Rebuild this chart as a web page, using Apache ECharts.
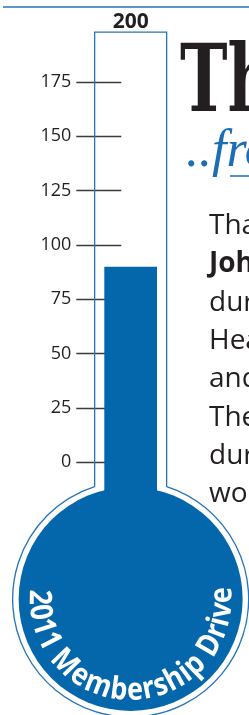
<!DOCTYPE html>
<html>
<head>
<meta charset="utf-8">
<script src="https://cdn.jsdelivr.net/npm/echarts@6/dist/echarts.min.js"></script>
<style>
  html, body { margin: 0; padding: 0; background: #fff; }
  #thermo { width: 249px; height: 715px; }
</style>
</head>
<body>
<div id="thermo"></div>
<script>
  // data
  var categories = ['2011'];
  var members = [90];
  var goal = 200;
  var tickValues = [0, 25, 50, 75, 100, 125, 150, 175];
  var driveTitle = '2011 Membership Drive';
  var headline = 'Thank You';
  var byline = '..from the President';
  var bodyLines = [
    { text: 'Thank you to', bold: false },
    { text: 'John', bold: true },
    { text: 'during the', bold: false },
    { text: 'Health', bold: false },
    { text: 'and', bold: false },
    { text: 'The', bold: false },
    { text: 'during', bold: false },
    { text: 'would', bold: false }
  ];

  var blue = '#0467ab';
  var rim = '#2674ba';
  var ink = '#231f20';

  var chart = echarts.init(document.getElementById('thermo'));
  chart.setOption({
    animation: false,
    grid: { left: 104.3, right: 92, top: 27.6, bottom: 252.7 },
    xAxis: { type: 'category', data: categories, show: false },
    yAxis: {
      type: 'value', min: 0, max: goal, interval: 25,
      offset: -17,
      axisLine: { show: false },
      splitLine: { show: false },
      axisTick: { show: true, length: 45, customValues: tickValues,
                  lineStyle: { color: '#3b3b3b', width: 1.3 } },
      axisLabel: { margin: 50, customValues: tickValues, color: ink,
                   fontFamily: 'Open Sans', fontSize: 18 }
    },
    series: [{
      type: 'bar', data: members, barWidth: '100%', z: 10,
      itemStyle: { color: blue }
    }]
  });

  // thermometer body placed from the axis scale
  var p0 = chart.convertToPixel({ xAxisIndex: 0, yAxisIndex: 0 }, [categories[0], 0]);
  var pTop = chart.convertToPixel({ xAxisIndex: 0, yAxisIndex: 0 }, [categories[0], goal]);
  var cx = p0[0], y0 = p0[1], yTop = pTop[1];
  var cy = y0 + 136.7, rOut = 118, rIn = 112, half = 36, barHalf = 26.35;
  var joinY = cy - Math.sqrt(rOut * rOut - half * half);
  var joinA = Math.asin(half / rOut);

  function txt(x, y, text, font, fill, align, extra) {
    var el = { type: 'text', x: x, y: y, z: 5,
      style: { text: text, font: font, fill: fill,
               align: align, verticalAlign: 'middle',
               textAlign: align, textVerticalAlign: 'middle' } };
    for (var k in extra) el[k] = extra[k];
    return el;
  }

  var els = [
    { type: 'line', z: 3, shape: { x1: 3, y1: 7, x2: 249, y2: 7 },
      style: { stroke: rim, lineWidth: 1.6 } },
    { type: 'arc', z: 3,
      shape: { cx: cx, cy: cy, r: rOut, startAngle: -Math.PI / 2 + joinA,
               endAngle: Math.PI * 1.5 - joinA, clockwise: true },
      style: { stroke: rim, lineWidth: 1.3, fill: null } },
    { type: 'polyline', z: 3,
      shape: { points: [[cx - half, joinY], [cx - half, yTop + 4.5], [cx + half, yTop + 4.5], [cx + half, joinY]] },
      style: { stroke: rim, lineWidth: 1.3, fill: null } },
    { type: 'circle', z: 4, shape: { cx: cx, cy: cy, r: rIn }, style: { fill: blue } },
    { type: 'rect', z: 4, shape: { x: cx - barHalf, y: y0 - 0.5, width: barHalf * 2, height: 40 },
      style: { fill: blue } },
    txt(cx, 22, String(goal), 'bold 21px "Open Sans"', ink, 'center'),
    txt(180, 87, headline, 'bold 94px "DejaVu Serif"', ink, 'left', { scaleX: 0.68 }),
    txt(186, 152, byline, 'italic 52px "Liberation Serif"', '#1b6db5', 'left'),
    { type: 'line', z: 3, shape: { x1: 230, y1: 176, x2: 249, y2: 176 },
      style: { stroke: '#1b6db5', lineWidth: 1.5 } }
  ];

  bodyLines.forEach(function (ln, i) {
    var base = 236.7 + i * 38.3;
    els.push(txt(209, base - 10.5, ln.text,
      (ln.bold ? 'bold ' : '') + '28px "Open Sans"', ink, 'left'));
  });

  // lettering round the bulb
  var arcFont = 'bold 31px "Open Sans"', arcScale = 0.87, arcR = 92;
  var ctx = document.createElement('canvas').getContext('2d');
  ctx.font = arcFont;
  var centers = [];
  for (var i = 0; i < driveTitle.length; i++) {
    var a = ctx.measureText(driveTitle.slice(0, i)).width;
    var b = ctx.measureText(driveTitle.slice(0, i + 1)).width;
    centers.push((a + b) / 2);
  }
  var first = centers[0], last = centers[centers.length - 1];
  var startT = 181 * Math.PI / 180, endT = -2.4 * Math.PI / 180;
  for (var j = 0; j < driveTitle.length; j++) {
    var ch = driveTitle[j];
    if (ch === ' ') continue;
    var t = startT + (endT - startT) * (centers[j] - first) / (last - first);
    els.push({
      type: 'text', z: 12,
      x: cx + arcR * Math.cos(t), y: cy + arcR * Math.sin(t),
      rotation: Math.PI / 2 - t, scaleX: arcScale,
      style: { text: ch, font: arcFont, fill: '#fff',
               align: 'center', verticalAlign: 'middle',
               textAlign: 'center', textVerticalAlign: 'middle' }
    });
  }

  chart.setOption({ graphic: { elements: els } });
</script>
</body>
</html>
